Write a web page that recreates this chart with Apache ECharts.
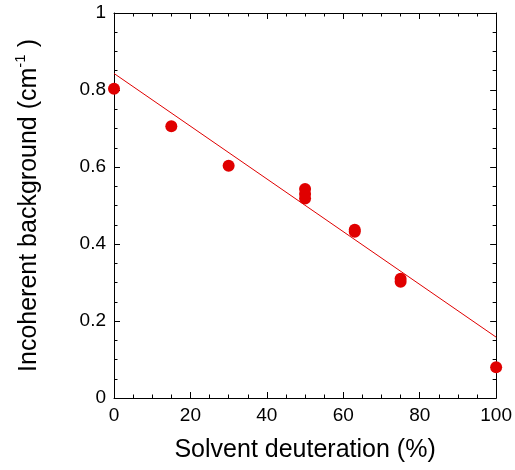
<!DOCTYPE html>
<html>
<head>
<meta charset="utf-8">
<script src="https://cdn.jsdelivr.net/npm/echarts@6/dist/echarts.min.js"></script>
<style>
html,body{margin:0;padding:0;background:#fff;}
#chart{width:515px;height:470px;}
</style>
</head>
<body>
<div id="chart"></div>
<script>
// Data
var deuteration = [0, 15, 30, 50, 50, 50, 63, 63, 75, 75, 100];
var background  = [0.803, 0.706, 0.603, 0.543, 0.530, 0.518, 0.437, 0.432, 0.310, 0.302, 0.080];
var fitX = [0, 100];
var fitY = [0.843, 0.158];
var xTicks = [0, 20, 40, 60, 80, 100];
var yTicks = [0, 0.2, 0.4, 0.6, 0.8, 1];

var FONT = '"Liberation Sans", Arial, sans-serif';
var chart = echarts.init(document.getElementById('chart'));

function axisBase(extra) {
  var base = {
    axisLine: {show: true, onZero: false, lineStyle: {color: '#000', width: 1}},
    axisTick: {show: true, inside: true, length: 6, lineStyle: {color: '#000', width: 1}},
    minorTick: {show: true, splitNumber: 4, length: 3.5, lineStyle: {color: '#000', width: 1}},
    splitLine: {show: false},
    minorSplitLine: {show: false}
  };
  for (var k in extra) base[k] = extra[k];
  return base;
}

chart.setOption({
  animation: false,
  backgroundColor: '#fff',
  grid: {left: 114, right: 15, top: 13, bottom: 72, containLabel: false},
  xAxis: [
    axisBase({
      type: 'value', position: 'bottom', min: xTicks[0], max: xTicks[xTicks.length - 1], interval: 20,
      axisLabel: {show: true, color: '#000', fontSize: 19, fontFamily: FONT, margin: 8,
        formatter: function (v) { return xTicks.indexOf(v) >= 0 ? String(v) : ''; }},
      name: 'Solvent deuteration (%)', nameLocation: 'middle', nameGap: 40,
      nameTextStyle: {color: '#000', fontSize: 25, fontFamily: FONT}
    }),
    axisBase({
      type: 'value', position: 'top', min: 0, max: 100, interval: 20,
      axisLabel: {show: false}
    })
  ],
  yAxis: [
    axisBase({
      type: 'value', position: 'left', min: yTicks[0], max: yTicks[yTicks.length - 1], interval: 0.2,
      axisLabel: {show: true, color: '#000', fontSize: 19, fontFamily: FONT, margin: 8,
        formatter: function (v) { return String(Math.round(v * 10) / 10); }},
      name: '{a|Incoherent background (cm}{s|-1}{a| )}', nameLocation: 'middle', nameGap: 68,
      nameTextStyle: {color: '#000', fontSize: 25, fontFamily: FONT,
        rich: {
          a: {fontSize: 25, fontFamily: FONT, color: '#000'},
          s: {fontSize: 15, fontFamily: FONT, color: '#000', padding: [0, 0, 18, 0]}
        }}
    }),
    axisBase({
      type: 'value', position: 'right', min: 0, max: 1, interval: 0.2,
      axisLabel: {show: false}
    })
  ],
  series: [
    {
      type: 'line', xAxisIndex: 0, yAxisIndex: 0,
      data: fitX.map(function (x, i) { return [x, fitY[i]]; }),
      showSymbol: false, symbol: 'none',
      lineStyle: {color: '#e00000', width: 1}, z: 2
    },
    {
      type: 'scatter', xAxisIndex: 0, yAxisIndex: 0,
      data: deuteration.map(function (x, i) { return [x, background[i]]; }),
      symbol: 'circle', symbolSize: 12,
      itemStyle: {color: '#e00000', opacity: 1}, z: 3
    }
  ]
});
</script>
</body>
</html>
